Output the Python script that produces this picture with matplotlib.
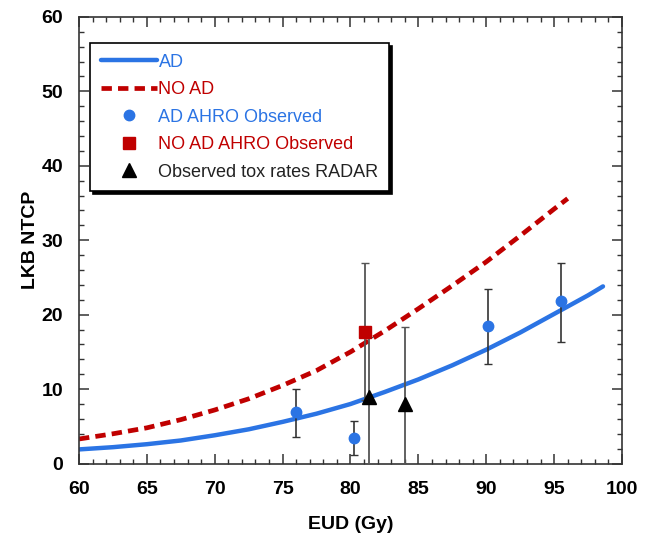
import numpy as np
import matplotlib
matplotlib.use("Agg")
import matplotlib.pyplot as plt
from matplotlib.ticker import MultipleLocator

plt.rcParams["font.family"] = ["Liberation Sans", "DejaVu Sans"]

# model curves
eud_ad = [60, 62.5, 65, 67.5, 70, 72.5, 75, 77.5, 80, 82.5, 85, 87.5, 90, 92.5, 95, 97.5, 98.6]
ntcp_ad = [1.9, 2.2, 2.6, 3.1, 3.8, 4.6, 5.6, 6.7, 8.0, 9.6, 11.3, 13.2, 15.3, 17.6, 20.1, 22.6, 23.8]
eud_noad = [60, 62.5, 65, 67.5, 70, 72.5, 75, 77.5, 80, 82.5, 85, 87.5, 90, 92.5, 95, 96]
ntcp_noad = [3.3, 4.0, 4.8, 5.9, 7.2, 8.7, 10.5, 12.5, 15.0, 17.8, 20.8, 23.9, 27.1, 30.6, 34.2, 35.6]

# observed points (value, lower, upper)
ad_x = [76.0, 80.25, 90.1, 95.5]
ad_y = [6.9, 3.4, 18.5, 21.8]
ad_lo = [3.6, 1.1, 13.4, 16.3]
ad_hi = [10.0, 5.7, 23.5, 27.0]

noad_x = [81.1]
noad_y = [17.7]
noad_lo = [8.5]
noad_hi = [27.0]

radar_x = [81.35, 84.0]
radar_y = [8.9, 8.0]
radar_lo = [0.0, 0.0]
radar_hi = [17.0, 18.3]

blue = "#2b74e4"
red = "#c00000"
errc = "#555555"

fig = plt.figure(figsize=(6.53, 5.46), dpi=100)
ax = fig.add_axes([0.121, 0.151, 0.8315, 0.818])

ax.plot(eud_ad, ntcp_ad, color=blue, lw=3.2, label="AD", solid_capstyle="round")
ax.plot(eud_noad, ntcp_noad, color=red, lw=3.4, ls=(0, (2.2, 1.3)), label="NO AD")

def yerr(y, lo, hi):
    return [np.array(y) - np.array(lo), np.array(hi) - np.array(y)]

ax.errorbar(radar_x, radar_y, yerr=yerr(radar_y, radar_lo, radar_hi), fmt="none",
            ecolor=errc, elinewidth=1.3, capsize=3, zorder=3)
ax.errorbar(noad_x, noad_y, yerr=yerr(noad_y, noad_lo, noad_hi), fmt="none",
            ecolor=errc, elinewidth=1.3, capsize=3, zorder=3)
ax.errorbar(ad_x, ad_y, yerr=yerr(ad_y, ad_lo, ad_hi), fmt="none",
            ecolor="#333333", elinewidth=1.2, capsize=3, zorder=3)

ax.plot(ad_x, ad_y, "o", color=blue, ms=7.5, ls="none", label="AD AHRO Observed", zorder=4)
ax.plot(noad_x, noad_y, "s", color=red, ms=9, ls="none", label="NO AD AHRO Observed", zorder=4)
ax.plot(radar_x, radar_y, "^", color="black", ms=10, ls="none", label="Observed tox rates RADAR", zorder=4)

ax.set_xlim(60, 100)
ax.set_ylim(0, 60)
ax.xaxis.set_major_locator(MultipleLocator(5))
ax.xaxis.set_minor_locator(MultipleLocator(1))
ax.yaxis.set_major_locator(MultipleLocator(10))
ax.yaxis.set_minor_locator(MultipleLocator(2))
ax.tick_params(which="both", direction="in", top=True, right=True, color="#333333")
ax.tick_params(which="major", length=7, width=1.1, labelsize=14)
ax.tick_params(axis="x", which="major", pad=12.5)
ax.tick_params(axis="y", which="major", pad=11.5)
ax.tick_params(which="minor", length=3.5, width=1.0)
for lab in ax.get_xticklabels() + ax.get_yticklabels():
    lab.set_fontweight("bold")
for sp in ax.spines.values():
    sp.set_color("#333333")
    sp.set_linewidth(1.2)

ax.set_xlabel("EUD (Gy)", fontsize=14, fontweight="bold", labelpad=13)
ax.set_ylabel("LKB NTCP", fontsize=14, fontweight="bold", labelpad=2)

leg = ax.legend(loc="upper left", bbox_to_anchor=(0.02, 0.942), borderaxespad=0,
                fontsize=13, frameon=True, fancybox=False, shadow={"color": "black", "alpha": 1},
                handlelength=3.1, handletextpad=0.1, labelspacing=0.58,
                borderpad=0.6, edgecolor="black")
leg.get_frame().set_linewidth(1.2)
for txt, c in zip(leg.get_texts(), [blue, red, blue, red, "#222222"]):
    txt.set_color(c)

fig.savefig("out.png", dpi=100)
